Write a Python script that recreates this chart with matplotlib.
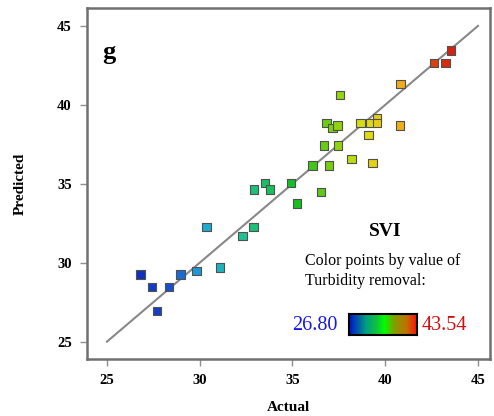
import numpy as np
import matplotlib
matplotlib.use('Agg')
import matplotlib.pyplot as plt
from matplotlib.colors import LinearSegmentedColormap

plt.rcParams['font.family'] = ['Liberation Serif', 'DejaVu Serif']

# actual vs predicted SVI, coloured by turbidity removal (= actual)
actual = [26.80, 27.41, 27.71, 28.36, 28.97, 29.83, 30.37, 31.09, 32.31, 32.89,
          32.92, 33.52, 33.79, 34.92, 35.26, 36.07, 36.54, 36.71, 36.84, 36.97,
          37.15, 37.42, 37.47, 37.56, 38.19, 38.67, 39.09, 39.18, 39.32, 39.54,
          39.57, 40.79, 40.83, 42.63, 43.24, 43.54]
predicted = [29.26, 28.48, 26.92, 28.48, 29.26, 29.49, 32.28, 29.70, 31.71, 32.28,
             34.64, 35.06, 34.64, 35.06, 33.75, 36.16, 34.47, 37.42, 38.84, 36.16,
             38.52, 38.69, 37.42, 40.61, 36.58, 38.84, 38.08, 38.84, 36.33, 39.16,
             38.84, 38.69, 41.33, 42.64, 42.64, 43.44]
t_min, t_max = 26.80, 43.54
ticks = [25, 30, 35, 40, 45]

point_cmap = LinearSegmentedColormap.from_list('pts', [
    (0.0, '#1030c0'), (0.1, '#1850d0'), (0.2, '#20a8d8'), (0.33, '#20c090'),
    (0.5, '#10c020'), (0.62, '#80d010'), (0.72, '#e0e010'), (0.85, '#f0a818'),
    (0.95, '#d84010'), (1.0, '#d82010')])
bar_cmap = LinearSegmentedColormap.from_list('bar', [
    (0.0, '#0010d0'), (0.25, '#00a080'), (0.4, '#10c040'), (0.52, '#00ff00'),
    (0.66, '#80a000'), (0.85, '#c07000'), (1.0, '#ff1010')])

fig = plt.figure(figsize=(4.94, 4.16), dpi=100)
ax = fig.add_axes([0.176, 0.137, 0.816, 0.844])

ax.plot([25, 45], [25, 45], color='#888888', lw=1.5, zorder=1)
ax.scatter(actual, predicted, c=actual, cmap=point_cmap, vmin=t_min, vmax=t_max,
           marker='s', s=36, edgecolors='#505050', linewidths=0.8, zorder=2)

ax.set_xlim(23.92, 45.65)
ax.set_ylim(23.9, 46.14)
ax.set_xticks(ticks)
ax.set_yticks(ticks)
for sp in ax.spines.values():
    sp.set_color('#707070')
    sp.set_linewidth(1.8)
ax.tick_params(direction='out', length=5, width=1, color='#909090', labelsize=10.5, pad=6)
for lab in ax.get_xticklabels() + ax.get_yticklabels():
    lab.set_fontweight('bold')
ax.set_xlabel('Actual', fontsize=11, fontweight='bold', labelpad=10)
ax.set_ylabel('Predicted', fontsize=11, fontweight='bold', labelpad=22)

ax.text(0.037, 0.872, 'g', transform=ax.transAxes, fontsize=19, fontweight='bold', va='center')

# colour key
fig.text(385 / 494, 1 - 232 / 416, 'SVI', fontsize=14, fontweight='bold', ha='center', va='center')
fig.text(305 / 494, 1 - 261 / 416, 'Color points by value of', fontsize=11.5, va='center')
fig.text(305 / 494, 1 - 281 / 416, 'Turbidity removal:', fontsize=11.5, va='center')
fig.text(337 / 494, 1 - 325 / 416, f'{t_min:.2f}', fontsize=14.5, color='#1818e0', ha='right', va='center')
fig.text(422 / 494, 1 - 325 / 416, f'{t_max:.2f}', fontsize=14.5, color='#d01010', ha='left', va='center')

cax = fig.add_axes([349 / 494, 1 - 335 / 416, 68 / 494, 21 / 416])
cax.imshow(np.linspace(0, 1, 256)[None, :], aspect='auto', cmap=bar_cmap)
cax.set_xticks([])
cax.set_yticks([])
for sp in cax.spines.values():
    sp.set_linewidth(1.5)
    sp.set_color('black')

fig.savefig('out.png', dpi=100)
